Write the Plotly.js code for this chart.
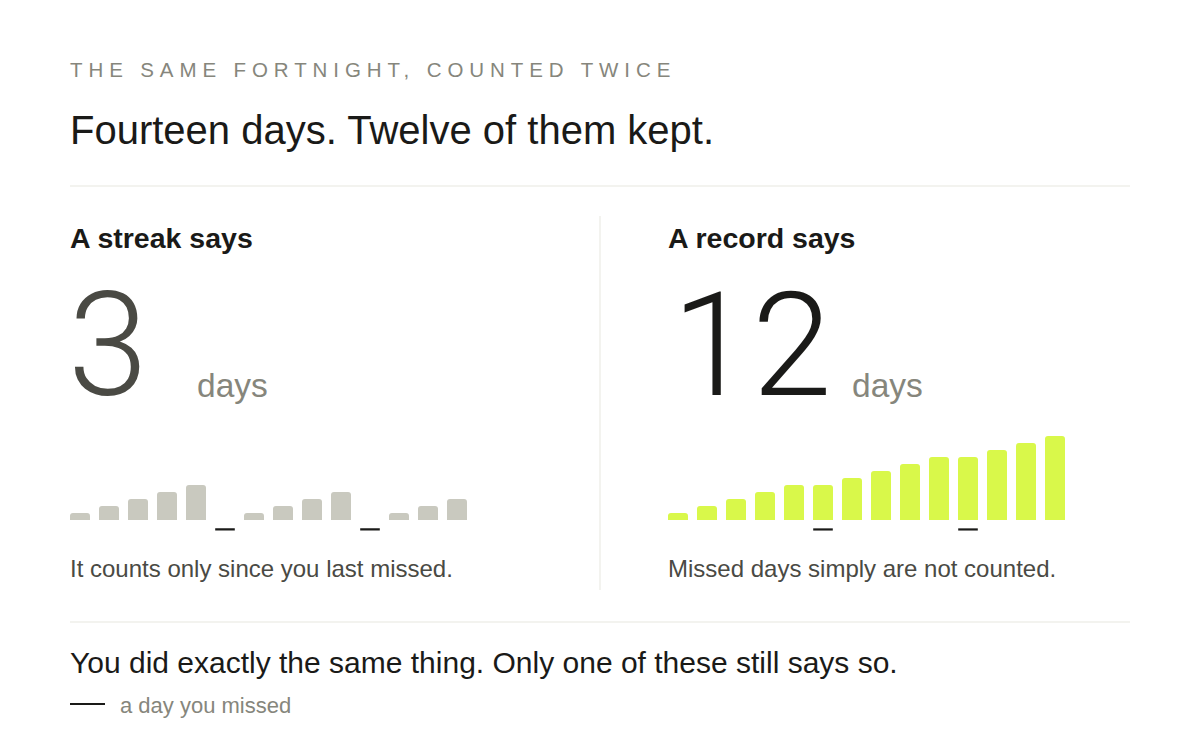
<!DOCTYPE html>
<html>
<head>
<meta charset="utf-8">
<script src="https://cdn.plot.ly/plotly-3.0.1.min.js"></script>
<style>
html,body{margin:0;padding:0;background:#fff;}
#chart{width:1200px;height:730px;}
</style>
</head>
<body>
<div id="chart"></div>
<script>
// ---- data ----
var days = [1,2,3,4,5,6,7,8,9,10,11,12,13,14];
var kept = [true,true,true,true,true,false,true,true,true,true,false,true,true,true];
var streakValues = [1,2,3,4,5,0,1,2,3,4,0,1,2,3];
var recordValues = [1,2,3,4,5,5,6,7,8,9,9,10,11,12];
var missedDays = [6,11];
var streakNow = 3;
var recordNow = 12;

var kicker = "THE SAME FORTNIGHT, COUNTED TWICE";
var headline = "Fourteen days. Twelve of them kept.";
var leftHead = "A streak says";
var rightHead = "A record says";
var unitLabel = "days";
var leftCaption = "It counts only since you last missed.";
var rightCaption = "Missed days simply are not counted.";
var footer = "You did exactly the same thing. Only one of these still says so.";
var legendText = "a day you missed";

// ---- styles ----
var FONT = "Liberation Sans, Arial, Helvetica, sans-serif";
var BIGFONT = "Roboto, Liberation Sans, Arial, sans-serif";
var INK = "#1a1a18", MUTED = "#86867c", MID = "#4a4a44", RULE = "#efefea";
var GREY_BAR = "#c9c9bf", LIME_BAR = "#d9f84a";
var W = 1200, H = 730;
function px(x){return x / W;}
function py(y){return 1 - y / H;}
var MISS_Y = -1.35; // marker offset below baseline, in value units

var leftKeptX = [], leftKeptY = [];
var rightX = [], rightY = [];
for (var i = 0; i < days.length; i++) {
  if (kept[i]) { leftKeptX.push(days[i]); leftKeptY.push(streakValues[i]); }
  rightX.push(days[i]); rightY.push(recordValues[i]);
}
var missY = missedDays.map(function(){return MISS_Y;});

var traces = [
  {type:"bar", x:leftKeptX, y:leftKeptY, xaxis:"x", yaxis:"y",
   marker:{color:GREY_BAR, cornerradius:3, line:{width:0}}, hoverinfo:"skip"},
  {type:"scatter", mode:"markers", x:missedDays, y:missY, xaxis:"x", yaxis:"y",
   marker:{symbol:"line-ew", size:14, line:{color:INK, width:2.2}}, hoverinfo:"skip"},
  {type:"bar", x:rightX, y:rightY, xaxis:"x2", yaxis:"y2",
   marker:{color:LIME_BAR, cornerradius:3, line:{width:0}}, hoverinfo:"skip"},
  {type:"scatter", mode:"markers", x:missedDays, y:missY, xaxis:"x2", yaxis:"y2",
   marker:{symbol:"line-ew", size:14, line:{color:INK, width:2.2}}, hoverinfo:"skip"}
];

var yDom = [py(534), py(422)];
var axX = {range:[0.5, 14.5], showgrid:false, zeroline:false, showticklabels:false, ticks:"", showline:false, fixedrange:true};
var axY = {range:[-2, 14], showgrid:false, zeroline:false, showticklabels:false, ticks:"", showline:false, fixedrange:true};

function ann(text, x, y, size, color, extra){
  var a = {text:text, xref:"paper", yref:"paper", x:px(x), y:py(y), xanchor:"left", yanchor:"middle",
    showarrow:false, font:{family:FONT, size:size, color:color}};
  if (extra) for (var k in extra) { if (k === "font") { for (var f in extra.font) a.font[f] = extra.font[f]; } else a[k] = extra[k]; }
  return a;
}

var annotations = [
  ann(kicker, 68, 69, 20.5, MUTED),
  ann(headline, 68, 130, 40, INK),
  ann(leftHead, 68, 238, 28.5, INK, {font:{weight:700}}),
  ann(rightHead, 666, 238, 28.5, INK, {font:{weight:700}}),
  ann(String(streakNow), 66, 345, 144, MID, {font:{family:BIGFONT, weight:300}}),
  ann(String(recordNow), 670, 345, 144, INK, {font:{family:BIGFONT, weight:300}}),
  ann(unitLabel, 195, 385, 33.5, MUTED),
  ann(unitLabel, 850, 385, 33.5, MUTED),
  ann(leftCaption, 68, 568, 24, MID),
  ann(rightCaption, 666, 568, 24, MID),
  ann(footer, 68, 662, 30, INK),
  ann(legendText, 118, 705, 22, MUTED)
];

var shapes = [
  {type:"line", xref:"paper", yref:"paper", x0:px(70), x1:px(1130), y0:py(186), y1:py(186), line:{color:RULE, width:1.5}},
  {type:"line", xref:"paper", yref:"paper", x0:px(600), x1:px(600), y0:py(216), y1:py(590), line:{color:RULE, width:1.5}},
  {type:"line", xref:"paper", yref:"paper", x0:px(70), x1:px(1130), y0:py(622), y1:py(622), line:{color:RULE, width:1.5}},
  {type:"line", xref:"paper", yref:"paper", x0:px(70), x1:px(105), y0:py(704), y1:py(704), line:{color:INK, width:2}}
];

var layout = {
  width:W, height:H, margin:{l:0, r:0, t:0, b:0},
  paper_bgcolor:"#ffffff", plot_bgcolor:"rgba(0,0,0,0)",
  showlegend:false, bargap:9/29,
  font:{family:FONT},
  xaxis: Object.assign({}, axX, {domain:[px(65.5), px(471.5)], anchor:"y"}),
  yaxis: Object.assign({}, axY, {domain:yDom, anchor:"x"}),
  xaxis2: Object.assign({}, axX, {domain:[px(663.5), px(1069.5)], anchor:"y2"}),
  yaxis2: Object.assign({}, axY, {domain:yDom, anchor:"x2"}),
  annotations:annotations, shapes:shapes
};

Plotly.newPlot("chart", traces, layout, {displayModeBar:false, staticPlot:true}).then(function(){
  var t = document.querySelectorAll(".annotation-text");
  for (var i = 0; i < t.length; i++) {
    if (t[i].textContent === kicker) {
      var el = t[i];
      el.style.letterSpacing = "5.9px";
      el.setAttribute("text-anchor", "start");
      var r = el.getBoundingClientRect();
      var cr = document.getElementById("chart").getBoundingClientRect();
      var shift = 70 - (r.left - cr.left);
      el.setAttribute("x", parseFloat(el.getAttribute("x")) + shift);
    }
  }
});
</script>
</body>
</html>
